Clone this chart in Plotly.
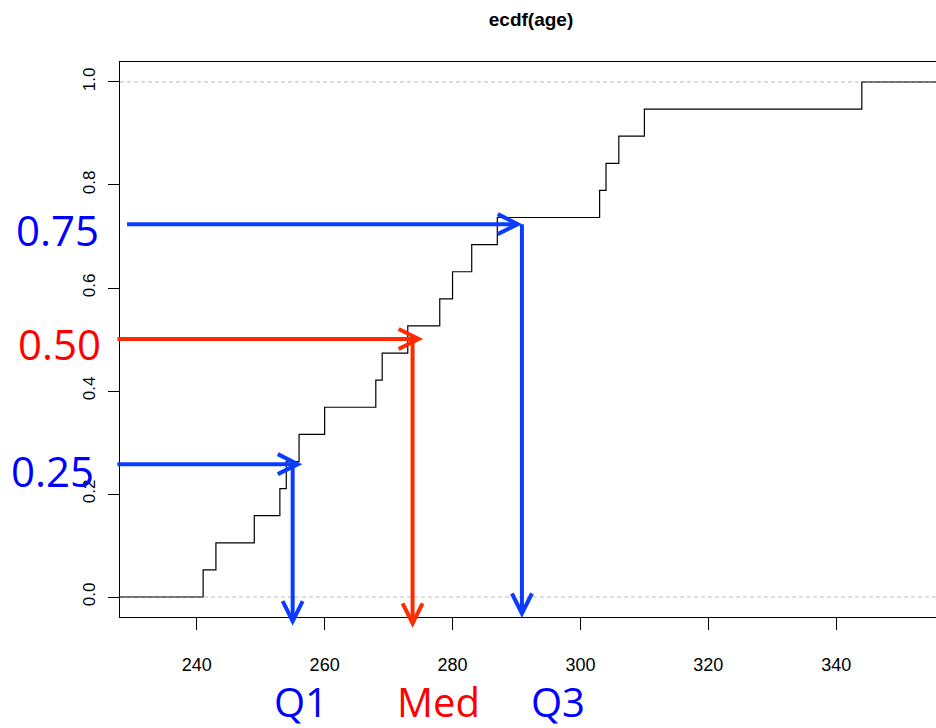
import numpy as np
import plotly.graph_objects as go

# ---------------- data ----------------
ages = [241, 243, 249, 253, 254, 256, 260, 268, 269, 273,
        278, 280, 283, 287, 303, 304, 306, 310, 344]

x_ticks = [240, 260, 280, 300, 320, 340]
y_ticks = [0.0, 0.2, 0.4, 0.6, 0.8, 1.0]
y_tick_labels = ["0.0", "0.2", "0.4", "0.6", "0.8", "1.0"]

# hand-drawn quantile arrows
q_names = ["Q1", "Med", "Q3"]
p_names = ["0.25", "0.50", "0.75"]
q_x = [255.0, 273.75, 290.85]        # vertical arrow x position
q_p = [0.258, 0.501, 0.724]          # horizontal arrow level
h_start_x = [227.6, 227.6, 229.1]    # start of horizontal arrows
h_tip_x = [255.8, 274.7, 290.2]      # tip of horizontal arrows
v_tip_y = [-0.047, -0.051, -0.032]   # tip of vertical arrows

# ---------------- geometry ----------------
FIG_W, FIG_H = 936, 728
L, T, R, B = 120, 62, 0, 111
PW, PH = FIG_W - L - R, FIG_H - T - B
X_RANGE = [228.0, 355.6]
Y_RANGE = [-0.0388, 1.0388]

BLUE_LINE = "#0A3CFF"
RED_LINE = "#FF2A00"
BLUE_TXT = "#0000FF"
RED_TXT = "#FF0000"
line_cols = [BLUE_LINE, RED_LINE, BLUE_LINE]
txt_cols = [BLUE_TXT, RED_TXT, BLUE_TXT]


def xp(v):
    return (v - X_RANGE[0]) / (X_RANGE[1] - X_RANGE[0])


def yp(v):
    return (v - Y_RANGE[0]) / (Y_RANGE[1] - Y_RANGE[0])


# ---------------- ecdf step line ----------------
n = len(ages)
ecdf_vals = list(np.arange(1, n + 1) / n)
step_x = [X_RANGE[0] - 20] + ages + [X_RANGE[1] + 20]
step_y = [0.0] + ecdf_vals + [1.0]

fig = go.Figure()
fig.add_trace(go.Scatter(x=step_x, y=step_y, mode="lines", line_shape="hv",
                         line=dict(color="black", width=1.2), hoverinfo="skip",
                         showlegend=False))

shapes = []
# grey dashed reference lines at 0 and 1
for lvl in (0.0, 1.0):
    shapes.append(dict(type="line", xref="paper", yref="y", x0=0, x1=1, y0=lvl, y1=lvl,
                       line=dict(color="#BDBDBD", width=1, dash="4px,3px"), layer="below"))

# arrows
AW = 4
back_px, side_px = 20, 10
for i in range(3):
    c = line_cols[i]
    y_lvl = yp(q_p[i])
    # horizontal shaft
    shapes.append(dict(type="line", xref="paper", yref="paper",
                       x0=xp(h_start_x[i]), x1=xp(h_tip_x[i]), y0=y_lvl, y1=y_lvl,
                       line=dict(color=c, width=AW)))
    tx, ty = xp(h_tip_x[i]), y_lvl
    dx, dy = back_px / PW, side_px / PH
    shapes.append(dict(type="path", xref="paper", yref="paper",
                       path=f"M{tx-dx},{ty+dy} L{tx},{ty} L{tx-dx},{ty-dy}",
                       line=dict(color=c, width=AW)))
    # vertical shaft
    vx = xp(q_x[i])
    vt = yp(v_tip_y[i])
    shapes.append(dict(type="line", xref="paper", yref="paper",
                       x0=vx, x1=vx, y0=y_lvl, y1=vt,
                       line=dict(color=c, width=AW)))
    dx2, dy2 = side_px / PW, back_px / PH
    shapes.append(dict(type="path", xref="paper", yref="paper",
                       path=f"M{vx-dx2},{vt+dy2} L{vx},{vt} L{vx+dx2},{vt+dy2}",
                       line=dict(color=c, width=AW)))

annotations = []
p_label_px = [(52, 470), (59, 343.5), (57, 229.6)]
q_label_px = [(300.5, 701), (438.5, 701), (557.5, 701)]
for i in range(3):
    px, py = p_label_px[i]
    annotations.append(dict(text=p_names[i], xref="paper", yref="paper",
                            x=(px - L) / PW, y=(FIG_H - B - py) / PH,
                            xanchor="center", yanchor="middle", showarrow=False,
                            font=dict(family="Open Sans", size=42, color=txt_cols[i])))
    px, py = q_label_px[i]
    annotations.append(dict(text=q_names[i], xref="paper", yref="paper",
                            x=(px - L) / PW, y=(FIG_H - B - py) / PH,
                            xanchor="center", yanchor="middle", showarrow=False,
                            font=dict(family="Open Sans", size=40, color=txt_cols[i])))

fig.update_layout(
    width=FIG_W, height=FIG_H,
    margin=dict(l=L, r=R, t=T, b=B, pad=0),
    paper_bgcolor="white", plot_bgcolor="white",
    title=dict(text="<b>ecdf(age)</b>", xref="container", yref="container",
               x=531 / FIG_W, xanchor="center", y=1 - 19 / FIG_H, yanchor="middle",
               font=dict(family="Liberation Sans", size=19, color="black")),
    shapes=shapes,
    annotations=annotations,
    showlegend=False,
    font=dict(family="Liberation Sans", color="black"),
)
fig.update_xaxes(range=X_RANGE, tickvals=x_ticks, ticktext=[str(v) for v in x_ticks],
                 ticks="outside", ticklen=12, tickwidth=1, tickcolor="black",
                 showline=True, linecolor="black", linewidth=1, mirror=True,
                 showgrid=False, zeroline=False, ticklabelstandoff=19,
                 tickfont=dict(family="Liberation Sans", size=18, color="black"))
fig.update_yaxes(range=Y_RANGE, tickvals=y_ticks, ticktext=y_tick_labels,
                 ticks="outside", ticklen=11, tickwidth=1, tickcolor="black",
                 showline=True, linecolor="black", linewidth=1, mirror=False,
                 showgrid=False, zeroline=False, tickangle=-90, ticklabelstandoff=6,
                 tickfont=dict(family="Liberation Sans", size=17, color="black"))

fig.write_html("out.html", config={"displayModeBar": False},
               post_script="document.body.style.margin='0';")
